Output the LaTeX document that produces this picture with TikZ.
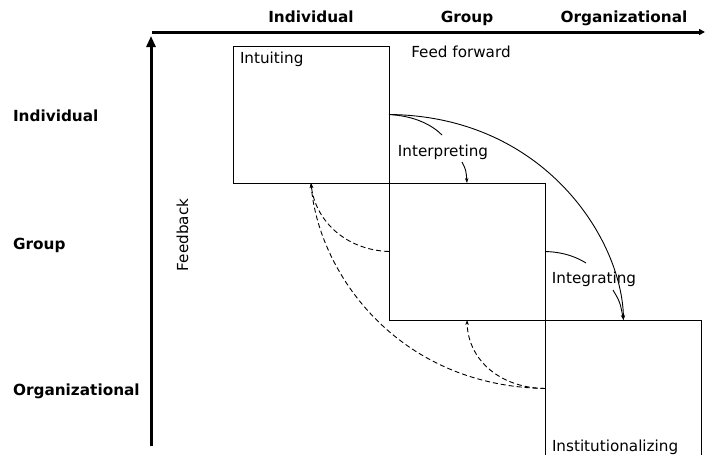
\documentclass[tikz,border=0pt]{standalone}
\usepackage{fontspec}
\setmainfont{DejaVu Sans}
\usetikzlibrary{arrows.meta}
\begin{document}
\begin{tikzpicture}[x=1pt,y=-1pt,
  every node/.style={inner sep=0pt,outer sep=0pt,font=\fontsize{15.2}{18}\selectfont},
  hdr/.style={font=\fontsize{15.3}{18}\selectfont\bfseries},
  stagebox/.style={draw,line width=1pt,minimum width=156pt,minimum height=137pt},
  axis/.style={line width=3pt,-{Triangle[length=11pt,width=9pt]}},
  flow/.style={line width=0.9pt,-{Stealth[length=5pt,width=3.5pt]}},
  lead/.style={line width=0.9pt},
  back/.style={line width=0.9pt,dash pattern=on 5pt off 3pt,-{Stealth[length=5pt,width=3.5pt]}}]
\useasboundingbox (0,0) rectangle (705,455);
% axes
\coordinate (hx0) at (152,32);
\coordinate (hx1) at (705,32);
\coordinate (vy0) at (151,446);
\coordinate (vy1) at (151,36);
\draw[line width=3pt,-{Triangle[length=6pt,width=6pt]}] (hx0) -- (hx1);
\draw[axis] (vy0) -- (vy1);
% header labels
\node[hdr,anchor=base] (hind) at (311,23) {Individual};
\node[hdr,anchor=base] (hgrp) at (467,23) {Group};
\node[hdr,anchor=base] (horg) at (624,23) {Organizational};
\node[hdr,anchor=base west] (vind) at (13,121) {Individual};
\node[hdr,anchor=base west] (vgrp) at (13,249) {Group};
\node[hdr,anchor=base west] (vorg) at (13,395) {Organizational};
\node[rotate=90,anchor=base] (fb) at (188,235) {Feedback};
\node[anchor=base] (ff) at (461,57) {Feed forward};
% boxes
\node[stagebox] (b1) at (311,114.5) {};
\node[stagebox] (b2) at (467,251.5) {};
\node[stagebox] (b3) at (623.5,388.5) {};
\node[anchor=base west] (t1) at (240,63) {Intuiting};
\node[anchor=base] (t2) at (443,156) {Interpreting};
\node[anchor=base] (t3) at (594,283) {Integrating};
\node[anchor=base west] (t4) at (552,451) {Institutionalizing};
% feed forward
\draw[flow] (b1.east) .. controls (545,116) and (622,240) .. (b3.north);
\coordinate (l1a) at (442,135);
\coordinate (l1b) at (462,162);
\draw[lead] (b1.east) .. controls (415,116) and (432,125) .. (l1a);
\draw[flow] (l1b) .. controls (466,170) .. (b2.north);
\coordinate (l2a) at (586,263);
\coordinate (l2b) at (613,290);
\draw[lead] (b2.east) .. controls (565,252) and (578,258) .. (l2a);
\draw[flow] (l2b) .. controls (620,302) .. (b3.north);
% feedback
\draw[back] (b2.west) .. controls (345,250) and (315,220) .. (b1.south);
\draw[back] (b3.west) .. controls (395,386) and (318,270) .. (b1.south);
\draw[back] (b3.west) .. controls (500,388) and (468,360) .. (b2.south);
\end{tikzpicture}
\end{document}
